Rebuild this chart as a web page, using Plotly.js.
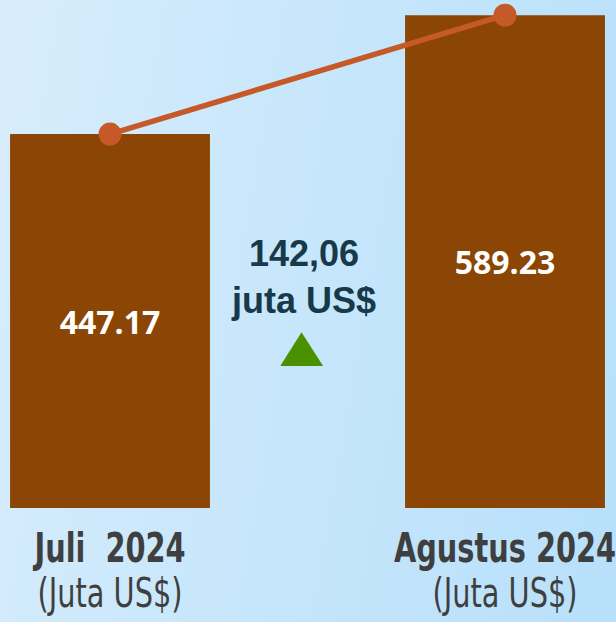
<!DOCTYPE html>
<html>
<head>
<meta charset="utf-8">
<script src="https://cdn.plot.ly/plotly-3.0.1.min.js"></script>
<style>
html,body{margin:0;padding:0;}
#chart{width:616px;height:622px;background:linear-gradient(100deg,#d8edfc 0%,#c6e6fb 50%,#b8e0fb 100%);}
</style>
</head>
<body>
<div id="chart"></div>
<script>
const categories = ['Juli 2024', 'Agustus 2024'];
const tickLabels = ['<b>Juli\u00a0\u00a02024</b><br>(Juta US$)', '<b>Agustus 2024</b><br>(Juta US$)'];
const values = [447.17, 589.23];
const changeUnit = 'juta US$';

const xIdx = categories.map((c, i) => i);
const change = values[1] - values[0];
const changeText = change.toFixed(2).replace('.', ',');

const bars = {
  type: 'bar',
  x: xIdx,
  y: values,
  width: 0.506,
  marker: {color: '#8B4504'},
  text: values.map(v => v.toFixed(2)),
  textposition: 'inside',
  insidetextanchor: 'middle',
  textfont: {family: 'Open Sans', size: 32, color: '#ffffff', weight: 'bold'},
  hoverinfo: 'skip',
  showlegend: false
};
const line = {
  type: 'scatter',
  mode: 'lines+markers',
  x: xIdx,
  y: values,
  line: {color: '#C55A28', width: 5.5},
  marker: {color: '#C55A28', size: 23},
  cliponaxis: false,
  hoverinfo: 'skip',
  showlegend: false
};

const layout = {
  width: 616, height: 622,
  margin: {l: 0, r: 0, t: 0, b: 114, pad: 0},
  paper_bgcolor: 'rgba(0,0,0,0)',
  plot_bgcolor: 'rgba(0,0,0,0)',
  xaxis: {
    range: [-0.2785, 1.281], showgrid: false, zeroline: false, showline: false,
    tickmode: 'array', tickvals: xIdx, ticktext: tickLabels, ticks: '',
    ticklabelstandoff: 13, ticklabeloverflow: 'allow',
    tickfont: {family: 'DejaVu Sans Condensed, sans-serif', size: 40, color: '#3f3f3f'},
    fixedrange: true
  },
  yaxis: {range: [0, 607.4], visible: false, fixedrange: true},
  annotations: [{
    xref: 'paper', yref: 'paper', x: 0.4935, y: 0.455, xanchor: 'center', yanchor: 'middle',
    text: '<b>' + changeText + '<br>' + changeUnit + '</b>', showarrow: false,
    font: {family: 'Liberation Sans', size: 36, color: '#17394a'}
  }],
  shapes: [{
    type: 'path', xref: 'paper', yref: 'paper',
    path: 'M 0.455 0.2795 L 0.5245 0.2795 L 0.4895 0.346 Z',
    fillcolor: '#4A9100', line: {width: 0}
  }]
};

Plotly.newPlot('chart', [bars, line], layout, {displayModeBar: false, staticPlot: true}).then(gd => {
  // condense the tick label glyphs horizontally (narrow typeface look) and tighten line spacing
  gd.querySelectorAll('.xtick text').forEach(t => {
    const tr = t.getAttribute('transform') || '';
    t.setAttribute('transform', tr + ' scale(0.8,1)');
    t.querySelectorAll('tspan.line').forEach((ln, i) => {
      if (i > 0) ln.setAttribute('dy', (i * 1.12) + 'em');
    });
  });
});
</script>
</body>
</html>
